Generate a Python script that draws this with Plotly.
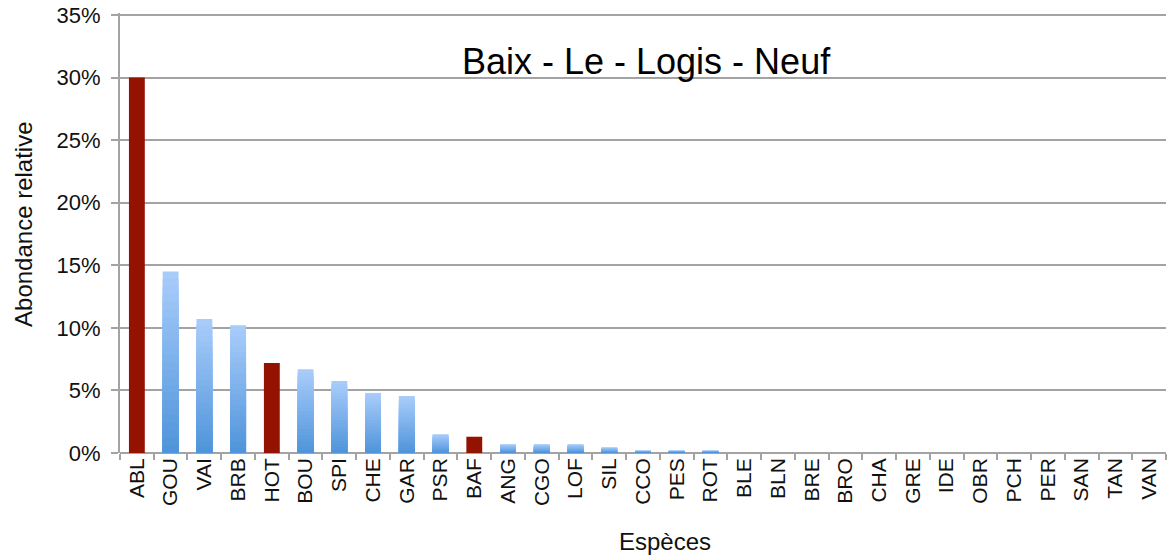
import plotly.graph_objects as go

species = ["ABL", "GOU", "VAI", "BRB", "HOT", "BOU", "SPI", "CHE", "GAR", "PSR", "BAF",
           "ANG", "CGO", "LOF", "SIL", "CCO", "PES", "ROT", "BLE", "BLN", "BRE", "BRO",
           "CHA", "GRE", "IDE", "OBR", "PCH", "PER", "SAN", "TAN", "VAN"]
abundance = [0.300, 0.145, 0.107, 0.102, 0.072, 0.067, 0.0575, 0.048, 0.0455, 0.015, 0.013,
             0.007, 0.007, 0.007, 0.0045, 0.002, 0.002, 0.002, 0, 0, 0, 0,
             0, 0, 0, 0, 0, 0, 0, 0, 0]
highlighted = ["ABL", "HOT", "BAF"]
y_ticks = [0, 0.05, 0.10, 0.15, 0.20, 0.25, 0.30, 0.35]

RED = "#941200"
TOP = (170, 205, 251)     # light blue at top of bar
BOTTOM = (78, 148, 218)   # darker blue at bottom

FONT = "Liberation Sans, Arial, Helvetica, sans-serif"

fig = go.Figure()

blue_vals = [0 if s in highlighted else v for s, v in zip(species, abundance)]
red_vals = [v if s in highlighted else 0 for s, v in zip(species, abundance)]

# vertical gradient for blue bars: overlaid bars of decreasing height
N = 24
for k in range(N):
    frac = (N - k) / N
    t = (N - k - 0.5) / N
    c = tuple(round(BOTTOM[i] + (TOP[i] - BOTTOM[i]) * t) for i in range(3))
    fig.add_trace(go.Bar(
        x=species, y=[v * frac for v in blue_vals],
        marker=dict(color="rgb(%d,%d,%d)" % c, line=dict(width=0)),
        opacity=1, showlegend=False, hoverinfo="skip"))

fig.add_trace(go.Bar(
    x=species, y=red_vals,
    marker=dict(color=RED, line=dict(width=0)),
    opacity=1, showlegend=False))

GRID = "#a3a3a3"

fig.update_layout(
    width=1168, height=556,
    barmode="overlay", bargap=0.53,
    paper_bgcolor="white", plot_bgcolor="white",
    margin=dict(l=120, r=2, t=13, b=103),
    font=dict(family=FONT, size=20, color="#111111"),
    xaxis=dict(
        type="category", tickangle=-90, tickson="boundaries", automargin=False,
        ticks="outside", ticklen=6, tickwidth=2, tickcolor=GRID,
        showline=False, showgrid=False, zeroline=False,
        tickfont=dict(size=21, family=FONT, color="#111111"),
    ),
    yaxis=dict(
        range=[0, 0.3516], tickvals=y_ticks, tickformat=".0%", automargin=False,
        showgrid=True, gridcolor=GRID, gridwidth=2,
        showline=True, linecolor=GRID, linewidth=2,
        zeroline=True, zerolinecolor=GRID, zerolinewidth=2,
        ticks="outside", ticklen=7, tickwidth=2, tickcolor=GRID,
        ticklabelstandoff=6,
        tickfont=dict(size=22, family=FONT, color="#111111"),
    ),
    annotations=[
        dict(text="Baix - Le - Logis - Neuf", xref="paper", yref="paper",
             x=0.503, y=0.890, xanchor="center", yanchor="middle",
             showarrow=False, font=dict(size=36, family=FONT, color="#000000")),
        dict(text="Abondance relative", xref="paper", yref="paper",
             x=-0.0918, y=0.5205, xanchor="center", yanchor="middle", textangle=-90,
             showarrow=False, font=dict(size=24, family=FONT, color="#111111")),
        dict(text="Espèces", xref="paper", yref="paper",
             x=0.521, y=-0.201, xanchor="center", yanchor="middle",
             showarrow=False, font=dict(size=24, family=FONT, color="#111111")),
    ],
)

# remove the default 8px page margin so the figure sits at the window's top-left corner
fig.write_html("out.html", config={"displayModeBar": False},
               post_script="document.body.style.margin='0';")
